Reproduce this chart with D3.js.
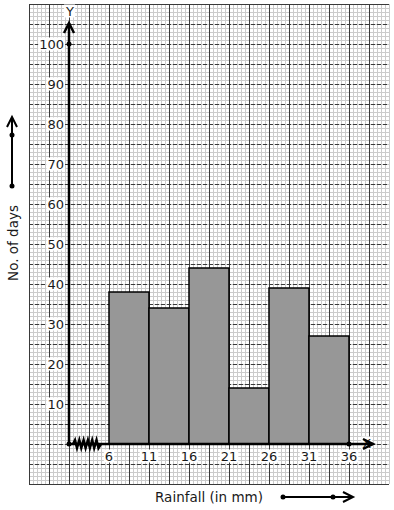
<!DOCTYPE html>
<html>
<head>
<meta charset="utf-8">
<script src="https://cdn.jsdelivr.net/npm/d3@7"></script>
<style>
  body { margin: 0; background: #fff; }
  svg { display: block; font-family: "DejaVu Sans", sans-serif; }
</style>
</head>
<body>
<div id="chart"></div>
<script>
// rainfall classes (mm) and number of days
var classStarts = [6, 11, 16, 21, 26, 31];
var classEnds = [11, 16, 21, 26, 31, 36];
var days = [38, 34, 44, 14, 39, 27];
var xTickLabels = [6, 11, 16, 21, 26, 31, 36];
var yTickLabels = [10, 20, 30, 40, 50, 60, 70, 80, 90, 100];

var width = 394, height = 510;

var svg = d3.select("#chart").append("svg")
    .attr("width", width)
    .attr("height", height);

// 1 mm = 8px, the y axis stands at 1 (broken axis)
var x = d3.scaleLinear().domain([-4, 41]).range([29, 389]);
var y = d3.scaleLinear().domain([-10, 110]).range([484, 4]);

// graph paper
var grid = svg.append("g");
d3.range(-4, 41.01, 0.5).forEach(function (v) {
    grid.append("line")
        .attr("x1", x(v)).attr("x2", x(v))
        .attr("y1", y(110)).attr("y2", y(-10))
        .attr("stroke", "#cbcbcb").attr("stroke-width", 1)
        .attr("shape-rendering", "crispEdges");
});
d3.range(-10, 110.01, 1).forEach(function (v) {
    grid.append("line")
        .attr("x1", x(-4)).attr("x2", x(41))
        .attr("y1", y(v)).attr("y2", y(v))
        .attr("stroke", "#cbcbcb").attr("stroke-width", 1)
        .attr("shape-rendering", "crispEdges");
});
d3.range(-4, 38.51, 2.5).forEach(function (v) {
    grid.append("line")
        .attr("x1", x(v)).attr("x2", x(v))
        .attr("y1", y(110)).attr("y2", y(-10))
        .attr("stroke", "#3a3a3a").attr("stroke-width", 1)
        .attr("shape-rendering", "crispEdges");
});
d3.range(-10, 110.01, 5).forEach(function (v) {
    grid.append("line")
        .attr("x1", x(-4)).attr("x2", x(41))
        .attr("y1", y(v)).attr("y2", y(v))
        .attr("stroke", "#3a3a3a").attr("stroke-width", 1)
        .attr("stroke-dasharray", (v == -10 || v == 110) ? null : "4,2")
        .attr("shape-rendering", "crispEdges");
});

// bars
svg.append("g").selectAll("rect")
    .data(days)
    .enter().append("rect")
    .attr("x", function (d, i) { return x(classStarts[i]); })
    .attr("y", function (d) { return y(d); })
    .attr("width", function (d, i) { return x(classEnds[i]) - x(classStarts[i]); })
    .attr("height", function (d) { return y(0) - y(d); })
    .attr("fill", "#979797")
    .attr("stroke", "#000")
    .attr("stroke-width", 1.5);

// label with white box behind it
function boxedText(g, tx, ty, txt, anchor) {
    var t = g.append("text")
        .attr("x", tx).attr("y", ty)
        .attr("text-anchor", anchor)
        .attr("dominant-baseline", "central")
        .attr("font-size", 13)
        .attr("fill", "#1a1a1a")
        .text(txt);
    var b = t.node().getBBox();
    g.insert("rect", "text")
        .attr("x", b.x - 1).attr("y", b.y + 1)
        .attr("width", b.width + 2).attr("height", b.height - 2)
        .attr("fill", "#fff");
}

var labels = svg.append("g");
yTickLabels.forEach(function (v) {
    var g = labels.append("g");
    boxedText(g, x(1) - 5, y(v), v, "end");
});
xTickLabels.forEach(function (v) {
    var g = labels.append("g");
    boxedText(g, x(v), y(0) + 12, v, "middle");
});
boxedText(labels.append("g"), x(1) + 1, 11, "Y", "middle");
boxedText(labels.append("g"), x(38.2), y(0) - 1, "X", "middle");

// axes
var ax = svg.append("g").attr("stroke", "#000").attr("fill", "none");
ax.append("line")
    .attr("x1", x(1)).attr("x2", x(1))
    .attr("y1", y(0)).attr("y2", 23)
    .attr("stroke-width", 2.5);
ax.append("path")
    .attr("d", "M" + (x(1) - 5) + ",33L" + x(1) + ",23L" + (x(1) + 5) + ",33")
    .attr("stroke-width", 2.5);
ax.append("line")
    .attr("x1", x(1)).attr("x2", 373)
    .attr("y1", y(0)).attr("y2", y(0))
    .attr("stroke-width", 2.5);
ax.append("path")
    .attr("d", "M363," + (y(0) - 5) + "L373," + y(0) + "L363," + (y(0) + 5))
    .attr("stroke-width", 2.5);

// kink on x axis
var zig = "M" + (x(1) + 4) + "," + y(0);
for (var k = 0; k < 6; k++) {
    var x0 = x(1) + 5 + k * 4.3;
    zig += "L" + (x0 + 1) + "," + (y(0) - 4) + "L" + (x0 + 3) + "," + (y(0) + 4);
}
zig += "L" + (x(1) + 32) + "," + y(0);
ax.append("path").attr("d", zig).attr("stroke-width", 2.5);

var dots = svg.append("g").attr("fill", "#000");
dots.append("circle").attr("cx", x(1)).attr("cy", y(0)).attr("r", 2.5);
dots.append("circle").attr("cx", x(1)).attr("cy", y(100)).attr("r", 2.5);
dots.append("circle").attr("cx", x(36)).attr("cy", y(0)).attr("r", 2.5);

// axis titles
svg.append("text")
    .attr("transform", "translate(18,243) rotate(-90)")
    .attr("text-anchor", "middle")
    .attr("font-size", 13.5)
    .attr("fill", "#1a1a1a")
    .text("No. of days");
svg.append("text")
    .attr("x", 209).attr("y", 502)
    .attr("text-anchor", "middle")
    .attr("font-size", 13.5)
    .attr("fill", "#1a1a1a")
    .text("Rainfall (in mm)");

// direction arrows
var dir = svg.append("g").attr("stroke", "#000").attr("fill", "none").attr("stroke-width", 2);
dir.append("line").attr("x1", 12).attr("x2", 12).attr("y1", 186).attr("y2", 117);
dir.append("path").attr("d", "M7,127L12,117L17,127");
dir.append("line").attr("x1", 283).attr("x2", 353).attr("y1", 497).attr("y2", 497);
dir.append("path").attr("d", "M343,492L353,497L343,502");
dots.append("circle").attr("cx", 12).attr("cy", 186).attr("r", 2.5);
dots.append("circle").attr("cx", 12).attr("cy", 135).attr("r", 2.5);
dots.append("circle").attr("cx", 283).attr("cy", 497).attr("r", 2.5);
dots.append("circle").attr("cx", 333).attr("cy", 497).attr("r", 2.5);
</script>
</body>
</html>
